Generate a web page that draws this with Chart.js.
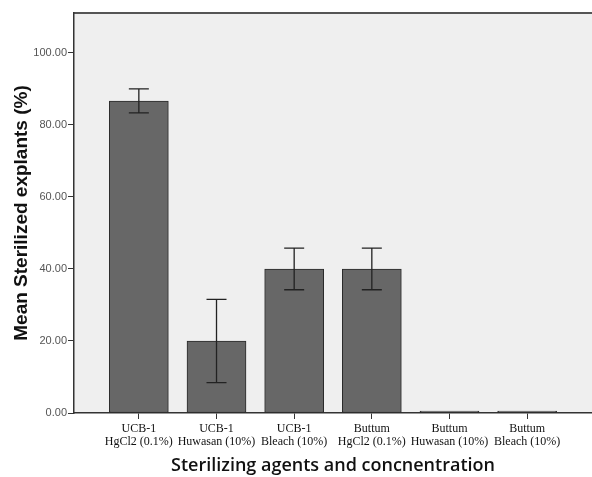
<!DOCTYPE html>
<html>
<head>
<meta charset="utf-8">
<script src="https://cdn.jsdelivr.net/npm/chart.js@4/dist/chart.umd.min.js"></script>
<style>
html,body{margin:0;padding:0;background:#fff;}
#wrap{width:592px;height:477px;}
</style>
</head>
<body>
<div id="wrap"><canvas id="c" width="592" height="477"></canvas></div>
<script>
const categories = [
  ["UCB-1", "HgCl2 (0.1%)"],
  ["UCB-1", "Huwasan (10%)"],
  ["UCB-1", "Bleach (10%)"],
  ["Buttum", "HgCl2 (0.1%)"],
  ["Buttum", "Huwasan (10%)"],
  ["Buttum", "Bleach (10%)"]
];
const meanValues = [86.67, 20.00, 40.00, 40.00, 0, 0];
const errorValues = [3.33, 11.55, 5.77, 5.77, 0, 0];
const yTicks = [0, 20, 40, 60, 80, 100];
const yTitle = "Mean Sterilized explants (%)";
const xTitle = "Sterilizing agents and concnentration";

const bgPlugin = {
  id: 'bgPlugin',
  beforeDraw(chart) {
    const {ctx, chartArea: a} = chart;
    ctx.save();
    ctx.fillStyle = '#efefef';
    ctx.fillRect(a.left, a.top, a.right - a.left, a.bottom - a.top);
    ctx.strokeStyle = '#555';
    ctx.lineWidth = 2;
    ctx.beginPath();
    ctx.moveTo(a.left, a.top);
    ctx.lineTo(a.right, a.top);
    ctx.stroke();
    ctx.restore();
  }
};

const errPlugin = {
  id: 'errPlugin',
  afterDatasetsDraw(chart) {
    const {ctx} = chart;
    const xs = chart.scales.x, ys = chart.scales.y;
    ctx.save();
    ctx.strokeStyle = '#222';
    ctx.lineWidth = 1.3;
    meanValues.forEach((m, i) => {
      const e = errorValues[i];
      if (!e) return;
      const x = xs.getPixelForValue(i);
      const yh = ys.getPixelForValue(m + e);
      const yl = ys.getPixelForValue(m - e);
      ctx.beginPath();
      ctx.moveTo(x, yh); ctx.lineTo(x, yl);
      ctx.moveTo(x - 10, yh); ctx.lineTo(x + 10, yh);
      ctx.moveTo(x - 10, yl); ctx.lineTo(x + 10, yl);
      ctx.stroke();
    });
    ctx.restore();
  }
};

new Chart(document.getElementById('c'), {
  type: 'bar',
  data: {
    datasets: [{
      data: meanValues.map((v, i) => ({x: i, y: v})),
      backgroundColor: '#676767',
      borderColor: '#2a2a2a',
      borderWidth: 1,
      borderSkipped: false,
      barThickness: 59,
      minBarLength: 2
    }]
  },
  options: {
    responsive: false,
    animation: false,
    layout: {padding: {top: 13, right: 0, left: 0, bottom: 0}},
    plugins: {legend: {display: false}, tooltip: {enabled: false}},
    scales: {
      x: {
        type: 'linear',
        offset: false,
        min: -0.835,
        max: 5.835,
        afterBuildTicks: s => { s.ticks = categories.map((c, i) => ({value: i})); },
        afterFit: s => { s.height = 64; },
        grid: {offset: false, drawOnChartArea: false, drawTicks: true, tickLength: 6, color: '#333', tickColor: '#333'},
        border: {display: true, color: '#333', width: 1.5},
        ticks: {
          autoSkip: false,
          maxRotation: 0,
          padding: 4,
          color: '#111',
          font: {family: 'Liberation Serif', size: 12, lineHeight: 1.05},
          callback: (v) => categories[v]
        },
        title: {
          display: true,
          text: xTitle,
          color: '#111',
          font: {family: 'Open Sans', size: 18, weight: '600'},
          padding: {top: 1, bottom: 0}
        }
      },
      y: {
        min: 0,
        max: 111.1,
        afterBuildTicks: s => { s.ticks = yTicks.map(v => ({value: v})); },
        afterFit: s => { s.width = 74; },
        grid: {drawOnChartArea: false, drawTicks: true, tickLength: 6, color: '#333', tickColor: '#333'},
        border: {display: true, color: '#333', width: 1.5},
        ticks: {
          padding: 1,
          color: '#555',
          font: {family: 'Liberation Sans', size: 11},
          callback: v => Number(v).toFixed(2)
        },
        title: {
          display: true,
          text: yTitle,
          color: '#111',
          font: {family: 'Liberation Sans', size: 19, weight: 'bold'},
          padding: {top: 10, bottom: 0}
        }
      }
    }
  },
  plugins: [bgPlugin, errPlugin]
});
</script>
</body>
</html>
